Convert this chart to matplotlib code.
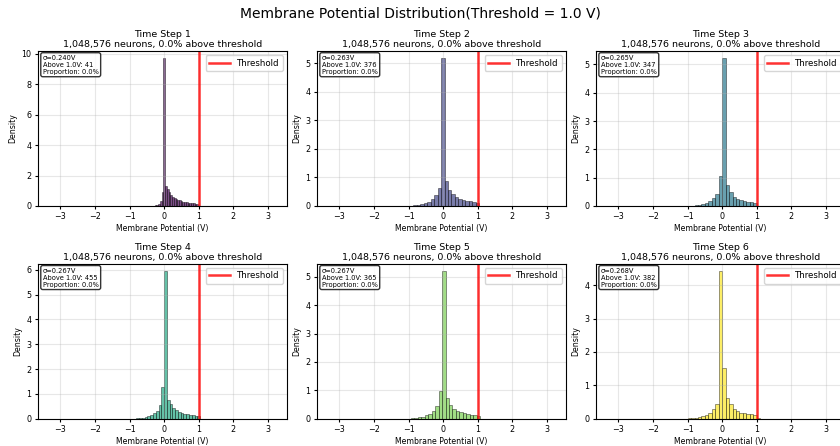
import numpy as np
import matplotlib
matplotlib.use("Agg")
import matplotlib.pyplot as plt

threshold = 1.0
n_neurons = 1048576
steps = [1, 2, 3, 4, 5, 6]
sigmas = [0.240, 0.263, 0.265, 0.267, 0.267, 0.268]
above_counts = [41, 376, 347, 455, 365, 382]

# bin start and width per time step, density per bin
bin_starts = [-0.52, -1.06, -1.00, -0.96, -1.03, -1.00]
bin_widths = [0.05, 0.10, 0.10, 0.08, 0.10, 0.10]
densities = [
    [0.005, 0.008, 0.01, 0.02, 0.03, 0.05, 0.08, 0.12, 0.3, 0.9,
     9.7,
     1.3, 1.1, 0.9, 0.75, 0.62, 0.52, 0.45, 0.4, 0.36, 0.32,
     0.29, 0.26, 0.24, 0.22, 0.2, 0.19, 0.17, 0.16, 0.15, 0.005],
    [0.005, 0.01, 0.02, 0.04, 0.06, 0.1, 0.15, 0.25, 0.4, 0.62,
     5.18,
     0.87, 0.55, 0.41, 0.3, 0.25, 0.21, 0.18, 0.16, 0.14, 0.12, 0.004],
    [0.008, 0.015, 0.025, 0.04, 0.07, 0.1, 0.16, 0.27, 0.42, 1.05,
     5.22,
     0.73, 0.48, 0.33, 0.25, 0.2, 0.17, 0.15, 0.14, 0.12, 0.004],
    [0.005, 0.01, 0.02, 0.03, 0.05, 0.07, 0.1, 0.15, 0.22, 0.33, 0.57, 1.3,
     5.95,
     0.77, 0.6, 0.45, 0.35, 0.28, 0.23, 0.2, 0.18, 0.16, 0.14, 0.13, 0.12, 0.004],
    [0.01, 0.02, 0.03, 0.05, 0.08, 0.12, 0.18, 0.28, 0.45, 0.98,
     5.2,
     0.72, 0.5, 0.36, 0.28, 0.23, 0.19, 0.17, 0.15, 0.13, 0.11, 0.004],
    [0.01, 0.02, 0.03, 0.05, 0.08, 0.12, 0.18, 0.3, 0.45,
     4.42,
     1.53, 0.63, 0.43, 0.3, 0.22, 0.18, 0.16, 0.15, 0.13, 0.12, 0.02],
]

colors = plt.cm.viridis(np.linspace(0, 1, len(steps)))

fig, axes = plt.subplots(2, 3, figsize=(8.4, 4.46), dpi=100)
plt.subplots_adjust(left=0.045, right=1.006, bottom=0.061, top=0.886,
                    wspace=0.12, hspace=0.372)

for i, ax in enumerate(axes.flat):
    dens = np.array(densities[i])
    edges = bin_starts[i] + bin_widths[i] * np.arange(len(dens) + 1)
    ax.hist(edges[:-1], bins=edges, weights=dens, color=colors[i], alpha=0.7,
            edgecolor='black', linewidth=0.4)
    ax.axvline(threshold, color='red', linewidth=1.8, alpha=0.8, label='Threshold')
    ax.set_xlim(-3.65, 3.55)
    ax.set_xticks([-3, -2, -1, 0, 1, 2, 3])
    ax.grid(True, alpha=0.3)
    pct = above_counts[i] / n_neurons * 100
    ax.set_title(f"Time Step {steps[i]}\n{n_neurons:,} neurons, {pct:.1f}% above threshold",
                 fontsize=6.8, pad=3, linespacing=1.1)
    ax.set_xlabel("Membrane Potential (V)", fontsize=5.6, labelpad=2)
    ax.set_ylabel("Density", fontsize=5.6, labelpad=3)
    ax.tick_params(labelsize=5.8, length=2.5, pad=2)
    ax.legend(loc='upper right', fontsize=6.2, handlelength=2.4)
    stats = f"σ={sigmas[i]:.3f}V\nAbove {threshold}V: {above_counts[i]}\nProportion: {pct:.1f}%"
    ax.text(0.02, 0.975, stats, transform=ax.transAxes, fontsize=4.8, va='top',
            bbox=dict(boxstyle='round,pad=0.3', facecolor='white', alpha=0.8))

fig.suptitle("Membrane Potential Distribution(Threshold = 1.0 V)", fontsize=10, y=0.985)
fig.savefig("out.png", dpi=100)
